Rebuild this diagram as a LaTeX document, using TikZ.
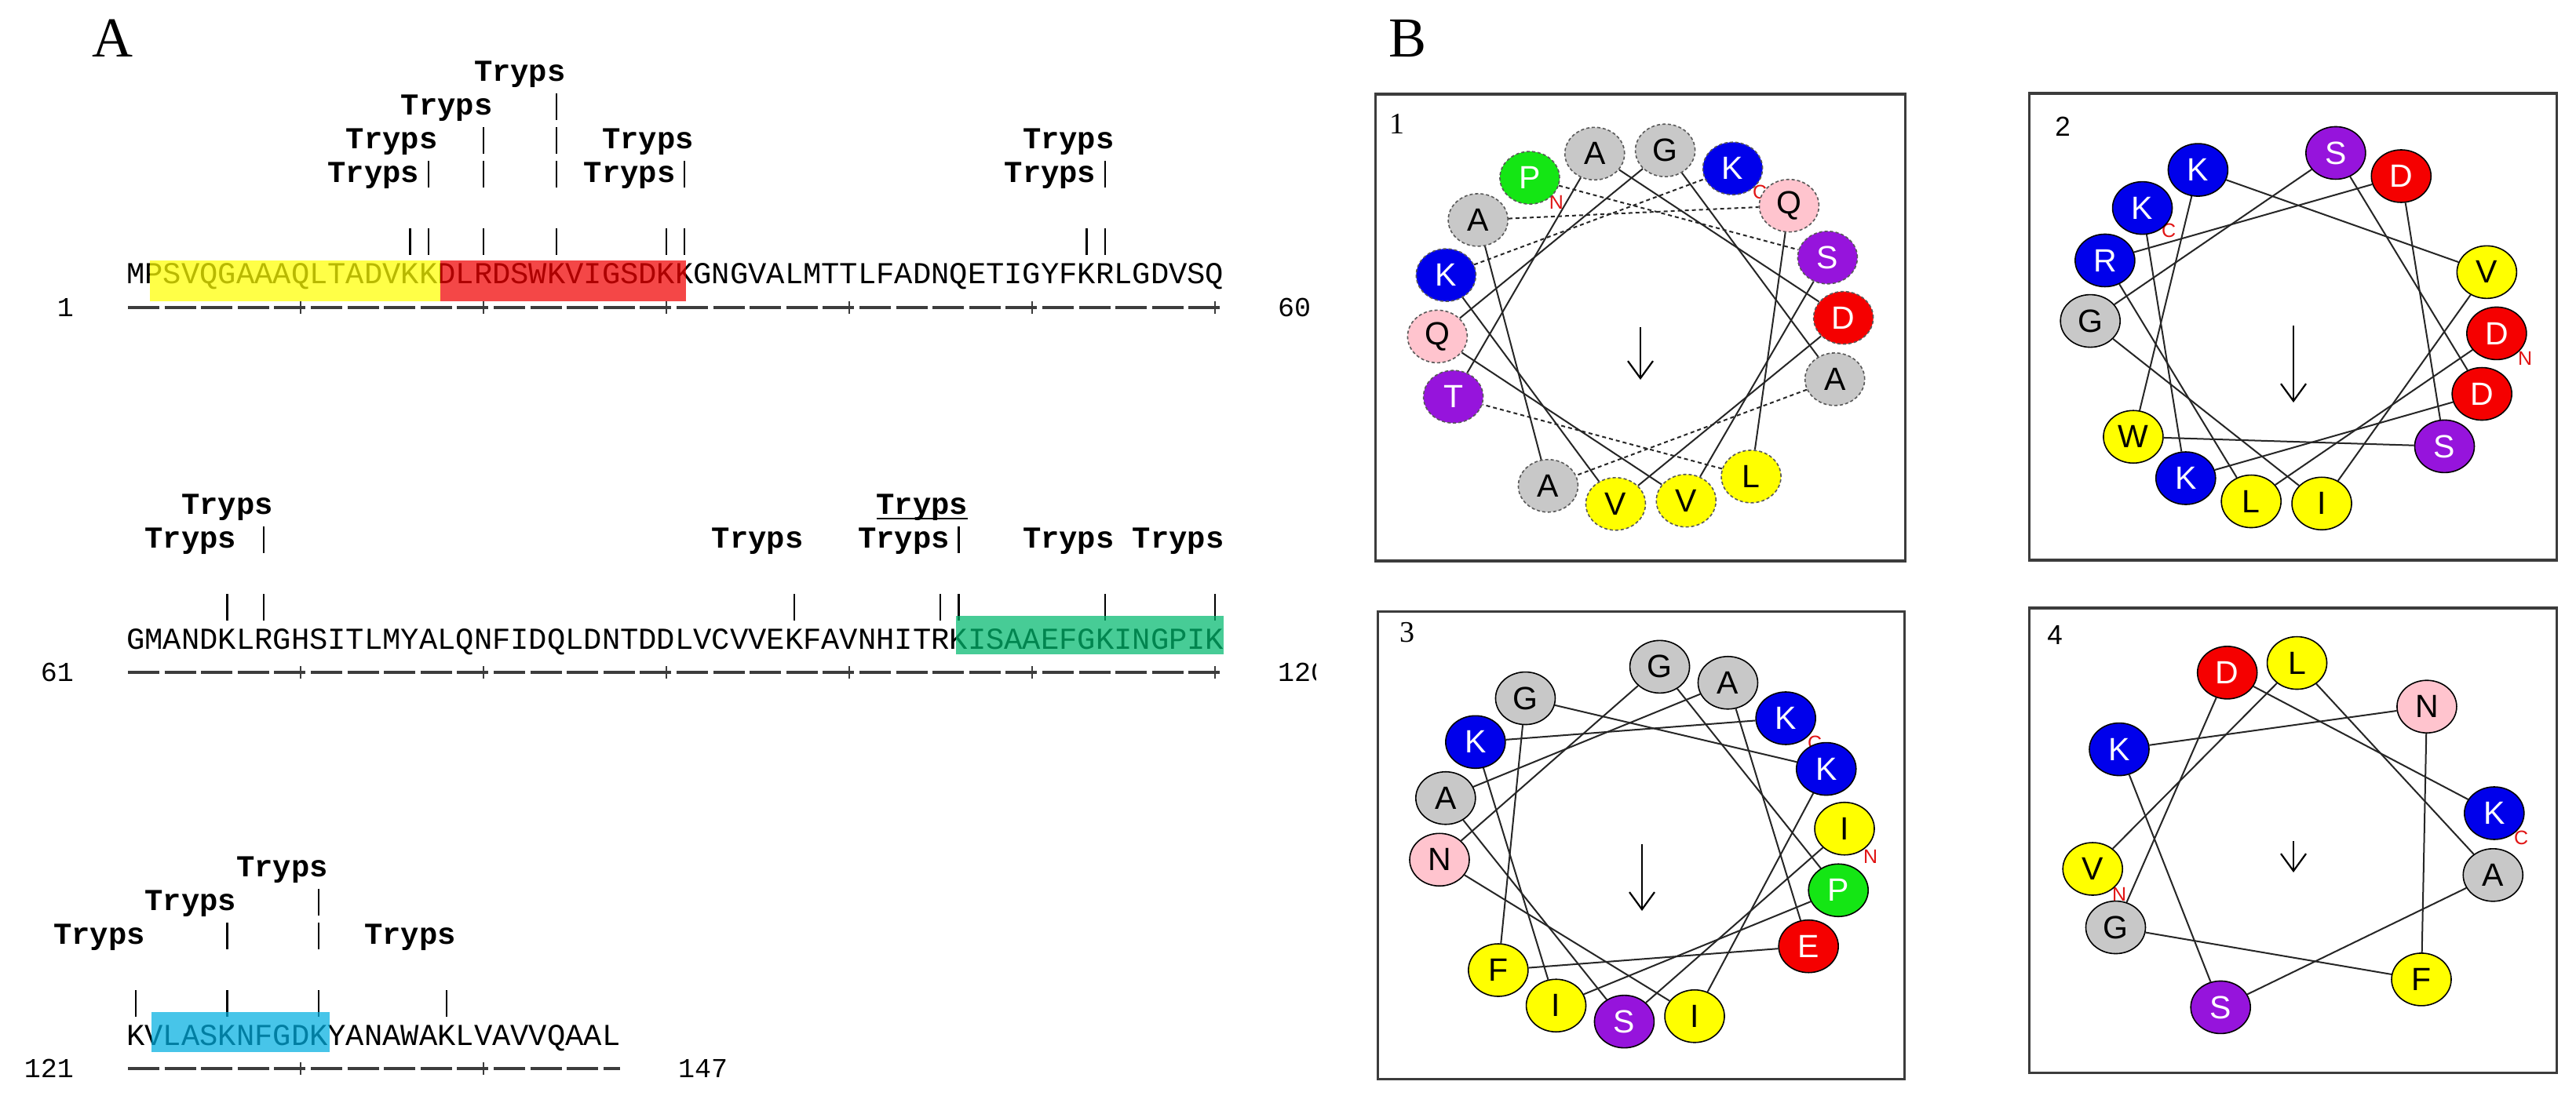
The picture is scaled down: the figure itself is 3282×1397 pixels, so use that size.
\documentclass[tikz,border=0pt]{standalone}
\usepackage{fontspec}
\setmainfont{Liberation Serif}
\setsansfont{Liberation Sans}
\setmonofont{Liberation Mono}
\usetikzlibrary{arrows.meta,shapes.geometric}
\pgfdeclarelayer{bgfill}
\pgfdeclarelayer{bg}
\pgfsetlayers{bgfill,bg,main}
\definecolor{bgray}{RGB}{200,200,200}
\definecolor{bblue}{RGB}{0,0,235}
\definecolor{bgreen}{RGB}{20,230,20}
\definecolor{bred}{RGB}{245,0,0}
\definecolor{byellow}{RGB}{255,255,0}
\definecolor{bpink}{RGB}{255,196,206}
\definecolor{bpurple}{RGB}{150,20,220}
\definecolor{hlyellow}{RGB}{255,255,0}
\definecolor{hlred}{RGB}{240,0,0}
\definecolor{hlgreen}{RGB}{0,185,110}
\definecolor{hlblue}{RGB}{0,175,225}
\definecolor{rulegray}{RGB}{60,60,60}
\definecolor{framegray}{RGB}{60,60,60}
\definecolor{ncred}{RGB}{225,20,20}

\newcommand\colx[1]{(173+((#1)-1)*23.3)}
\newcommand\colL[1]{(161.35+((#1)-1)*23.3)}

\tikzset{
  seqtext/.style={anchor=base west, inner sep=0pt, outer sep=0pt, font=\fontsize{38.83}{40}\selectfont\ttfamily},
  tryplab/.style={anchor=base west, inner sep=0pt, outer sep=0pt, font=\fontsize{38.83}{40}\selectfont\ttfamily\bfseries},
  posnum/.style={inner sep=0pt, outer sep=0pt, font=\fontsize{35}{36}\selectfont\ttfamily},
  cutbar/.style={line width=2.4pt},
  rulerline/.style={line width=4.5pt, rulegray, dash pattern=on 40pt off 6.6pt},
  rulertick/.style={line width=2.4pt, rulegray},
  hlbox/.style={fill opacity=0.72},
  panellab/.style={inner sep=0pt, anchor=base west, font=\fontsize{72}{72}\selectfont\rmfamily},
  boxframe/.style={line width=3.5pt, framegray},
  ball/.style={ellipse, draw=black, line width=1.6pt, minimum width=76pt, minimum height=67pt, inner sep=0pt, font=\fontsize{41}{41}\selectfont\sffamily},
  dball/.style={ball, draw=black!65, dash pattern=on 4pt off 3pt},
  wline/.style={line width=2pt, black!85},
  wdash/.style={wline, dash pattern=on 5pt off 4pt},
  ncl/.style={inner sep=0pt, text=ncred, font=\fontsize{25}{25}\selectfont\sffamily},
  moment/.style={line width=2.2pt, -{Straight Barb[length=22pt,width=32pt,line width=2.2pt]}},
  serifnum/.style={inner sep=0pt, font=\fontsize{38}{38}\selectfont\rmfamily},
  sansnum/.style={inner sep=0pt, font=\fontsize{35}{35}\selectfont\sffamily},
}

\newcommand\cuts[2]{\foreach \c in {#2}{\draw[cutbar] ({\colx{\c}},{#1-27}) -- ({\colx{\c}},{#1+7});}}
\newcommand\ruler[3]{\draw[rulerline] (163,#1) -- (#2,#1);
  \foreach \c in {#3}{\draw[rulertick] ({\colx{\c}},{#1-8}) -- ({\colx{\c}},{#1+8});}}
\newcommand\wheel[6]{%
  \foreach \r/\fc/\tc [count=\i from 0] in {#6} {
    \node[#5, fill=\fc, text=\tc] (#1-\i) at ({#2+259*sin(#4+100*\i)},{#3-227*cos(#4+100*\i)}) {\r};
  }}

\begin{document}
\begin{tikzpicture}[x=1pt,y=-1pt]
\useasboundingbox (0,0) rectangle (3282,1397);
\begin{pgfonlayer}{bgfill}\fill[white] (0,0) rectangle (3282,1397);\end{pgfonlayer}

% ---------------- Panel A ----------------
\node[panellab] (labA) at (117,73) {A};

% row 1
\node[tryplab] (r1a) at ({\colL{20}},103) {Tryps};
\node[tryplab] (r1b) at ({\colL{16}},146) {Tryps};
\cuts{146}{24}
\node[tryplab] (r1c) at ({\colL{13}},189) {Tryps};
\node[tryplab] (r1d) at ({\colL{27}},189) {Tryps};
\node[tryplab] (r1e) at ({\colL{50}},189) {Tryps};
\cuts{189}{20,24}
\node[tryplab] (r1f) at ({\colL{12}},232) {Tryps};
\node[tryplab] (r1g) at ({\colL{26}},232) {Tryps};
\node[tryplab] (r1h) at ({\colL{49}},232) {Tryps};
\cuts{232}{17,20,24,31,54}
\cuts{318}{16,17,20,24,30,31,53,54}
\node[seqtext] (seq1) at ({\colL{1}},361) {MPSVQGAAAQLTADVKKDLRDSWKVIGSDKKGNGVALMTTLFADNQETIGYFKRLGDVSQ};
\fill[hlyellow,hlbox] (191,332) rectangle (561,384);
\fill[hlred,hlbox] (561,332) rectangle (874,384);
\ruler{392}{1556}{10,20,30,40,50,60}
\node[posnum, anchor=base east] (n1) at (94,403) {1};
\node[posnum, anchor=base west] (n60) at (1628,403) {60};

% row 2
\node[tryplab] (r2a) at ({\colL{4}},655) {Tryps};
\node[tryplab] (r2b) at ({\colL{42}},655) {Tryps};
\draw[line width=2pt] ({\colL{42}},661) -- ({\colL{47}},661);
\node[tryplab] (r2c) at ({\colL{2}},698) {Tryps};
\node[tryplab] (r2d) at ({\colL{33}},698) {Tryps};
\node[tryplab] (r2e) at ({\colL{41}},698) {Tryps};
\node[tryplab] (r2f) at ({\colL{50}},698) {Tryps};
\node[tryplab] (r2g) at ({\colL{56}},698) {Tryps};
\cuts{698}{8,46}
\cuts{784}{6,8,37,45,46,54,60}
\node[seqtext] (seq2) at ({\colL{1}},827) {GMANDKLRGHSITLMYALQNFIDQLDNTDDLVCVVEKFAVNHITRKISAAEFGKINGPIK};
\fill[hlgreen,hlbox] (1218,785) rectangle (1559,834);
\ruler{857}{1556}{10,20,30,40,50,60}
\node[posnum, anchor=base east] (n61) at (94,868) {61};
\begin{scope}
  \clip (1500,820) rectangle (1676,900);
  \node[posnum, anchor=base west] (n120) at (1628,868) {120};
\end{scope}

% row 3
\node[tryplab] (r3a) at ({\colL{7}},1117) {Tryps};
\node[tryplab] (r3b) at ({\colL{2}},1160) {Tryps};
\cuts{1160}{11}
\node[tryplab] (r3c) at ({\colL{-3}},1203) {Tryps};
\node[tryplab] (r3d) at ({\colL{14}},1203) {Tryps};
\cuts{1203}{6,11}
\cuts{1289}{1,6,11,18}
\node[seqtext] (seq3) at ({\colL{1}},1332) {KVLASKNFGDKYANAWAKLVAVVQAAL};
\fill[hlblue,hlbox] (193,1290) rectangle (420,1341);
\ruler{1362}{790}{10,20}
\node[posnum, anchor=base east] (n121) at (94,1373) {121};
\node[posnum, anchor=base west] (n147) at (864,1373) {147};

% ---------------- Panel B ----------------
\node[panellab] (labB) at (1769,73) {B};

\draw[boxframe] (1752.5,120) rectangle (2427.5,715);
\draw[boxframe] (2585.6,119) rectangle (3257.5,714);
\draw[boxframe] (1755.6,779.6) rectangle (2426.6,1375.5);
\draw[boxframe] (2585.6,775) rectangle (3257.5,1367.5);

\node[serifnum] (bn1) at (1780,158) {1};
\node[sansnum] (bn2) at (2628,161) {2};
\node[serifnum] (bn3) at (1793,806) {3};
\node[sansnum] (bn4) at (2618,809) {4};

% N / C terminus marks (behind balls)
\node[ncl] (n1N) at (1983,258) {N};
\node[ncl] (n1C) at (2242,245) {C};
\node[ncl] (n2N) at (3217,457) {N};
\node[ncl] (n2C) at (2763,294) {C};
\node[ncl] (n3N) at (2383,1092) {N};
\node[ncl] (n3C) at (2312,947) {C};
\node[ncl] (n4N) at (2700,1140) {N};
\node[ncl] (n4C) at (3212,1068) {C};

% wheel 1
\wheel{wa}{2090}{417}{327}{dball}{P/bgreen/white,S/bpurple/white,V/byellow/black,Q/bpink/black,G/bgray/black,A/bgray/black,A/bgray/black,A/bgray/black,Q/bpink/black,L/byellow/black,T/bpurple/white,A/bgray/black,D/bred/white,V/byellow/black,K/bblue/white,K/bblue/white}
% wheel 2
\wheel{wb}{2922}{417}{92}{ball}{D/bred/white,L/byellow/black,R/bblue/white,D/bred/white,S/bpurple/white,W/byellow/black,K/bblue/white,V/byellow/black,I/byellow/black,G/bgray/black,S/bpurple/white,D/bred/white,K/bblue/white,K/bblue/white}
% wheel 3
\wheel{wc}{2092}{1076}{85}{ball}{I/byellow/black,S/bpurple/white,A/bgray/black,A/bgray/black,E/bred/white,F/byellow/black,G/bgray/black,K/bblue/white,I/byellow/black,N/bpink/black,G/bgray/black,P/bgreen/white,I/byellow/black,K/bblue/white,K/bblue/white}
% wheel 4
\wheel{wd}{2922}{1072}{261}{ball}{V/byellow/black,L/byellow/black,A/bgray/black,S/bpurple/white,K/bblue/white,N/bpink/black,F/byellow/black,G/bgray/black,D/bred/white,K/bblue/white}

\begin{pgfonlayer}{bg}
\foreach \i/\s in {0/wdash,1/wline,2/wline,3/wline,4/wline,5/wdash,6/wline,7/wdash,8/wline,9/wdash,10/wline,11/wline,12/wline,13/wline,14/wdash}{
  \pgfmathtruncatemacro\j{\i+1}
  \draw[\s] (wa-\i) -- (wa-\j);}
\foreach \i in {0,...,12}{\pgfmathtruncatemacro\j{\i+1}\draw[wline] (wb-\i) -- (wb-\j);}
\foreach \i in {0,...,13}{\pgfmathtruncatemacro\j{\i+1}\draw[wline] (wc-\i) -- (wc-\j);}
\foreach \i in {0,...,8}{\pgfmathtruncatemacro\j{\i+1}\draw[wline] (wd-\i) -- (wd-\j);}
\end{pgfonlayer}

% hydrophobic moment arrows
\coordinate (ca) at (2090,417);
\coordinate (cb) at (2922,415);
\coordinate (cc) at (2092,1076);
\coordinate (cd) at (2922,1072);
\draw[moment] (ca) -- ++(0,67);
\draw[moment] (cb) -- ++(0,98);
\draw[moment] (cc) -- ++(0,85);
\draw[moment] (cd) -- ++(0,40);
\end{tikzpicture}
\end{document}
